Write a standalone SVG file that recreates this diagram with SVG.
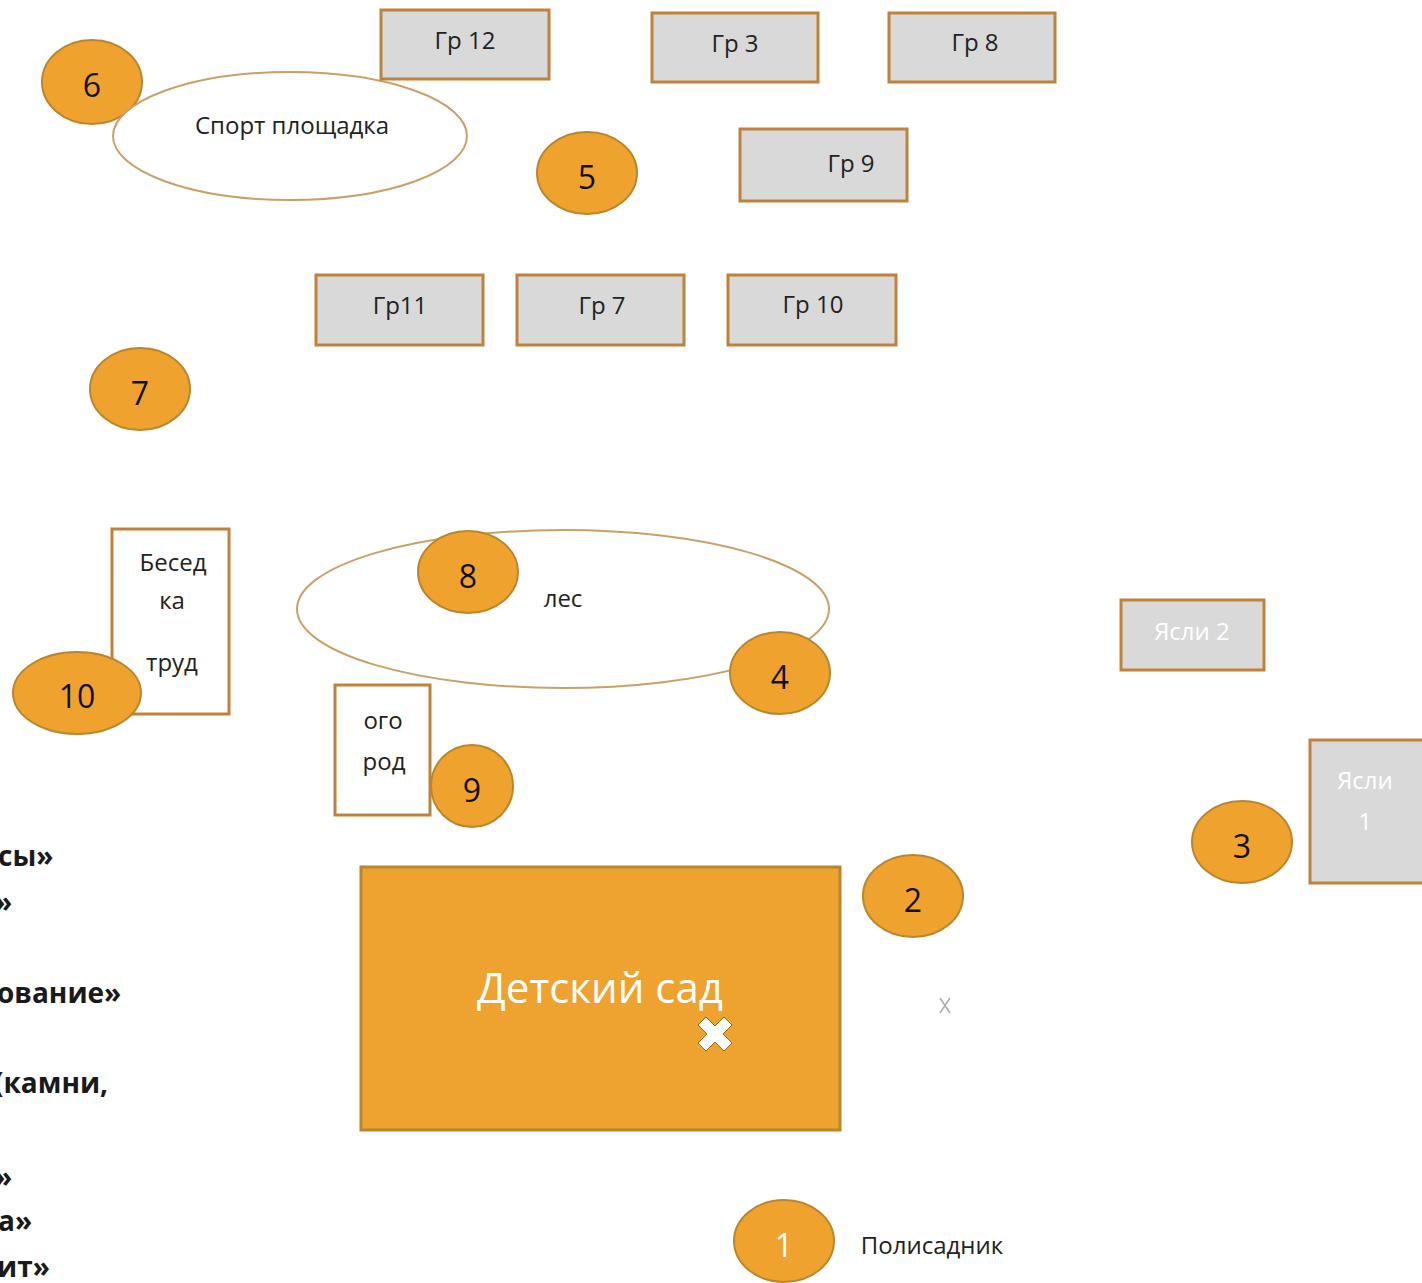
<svg xmlns="http://www.w3.org/2000/svg" width="1422" height="1283" viewBox="0 0 1422 1283">
<style>
text{font-family:"Open Sans","Noto Sans","Liberation Sans",sans-serif;text-anchor:middle;}
.num{fill:#F0A22E;stroke:#B8862E;stroke-width:2;}
.numt{font-size:32px;fill:#111;}
.gr{fill:#D9D9D9;stroke:#C0823A;stroke-width:3;}
.grt{font-size:24px;fill:#222;}
.wb{fill:#fff;stroke:#C0823A;stroke-width:3;}
.ell{fill:#fff;stroke:#C9A06A;stroke-width:2;}
.lbl{font-size:24px;fill:#222;}
.side{font-size:28px;font-weight:bold;fill:#1a1a1a;text-anchor:start;}
</style>
<rect width="1422" height="1283" fill="#fff"/>
<g id="connectors"></g>

<g id="n6"><ellipse class="num" cx="92" cy="82" rx="50" ry="42"/><text class="numt" x="92" y="97">6</text></g>
<g id="sport"><ellipse class="ell" cx="290" cy="136" rx="177" ry="64"/><text class="lbl" x="292" y="134">Спорт площадка</text></g>

<g id="gr12"><rect class="gr" x="381" y="10" width="168" height="69"/><text class="grt" x="465" y="49">Гр 12</text></g>
<g id="gr3"><rect class="gr" x="652" y="13" width="166" height="69"/><text class="grt" x="735" y="52">Гр 3</text></g>
<g id="gr8"><rect class="gr" x="889" y="13" width="166" height="69"/><text class="grt" x="975" y="51">Гр 8</text></g>
<g id="gr9"><rect class="gr" x="740" y="129" width="167" height="72"/><text class="grt" x="851" y="172">Гр 9</text></g>
<g id="n5"><ellipse class="num" cx="587" cy="173" rx="50" ry="41"/><text class="numt" x="587" y="189">5</text></g>

<g id="gr11"><rect class="gr" x="316" y="275" width="167" height="70"/><text class="grt" x="400" y="314">Гр11</text></g>
<g id="gr7"><rect class="gr" x="517" y="275" width="167" height="70"/><text class="grt" x="602" y="314">Гр 7</text></g>
<g id="gr10"><rect class="gr" x="728" y="275" width="168" height="70"/><text class="grt" x="813" y="313">Гр 10</text></g>

<g id="n7"><ellipse class="num" cx="140" cy="389" rx="50" ry="41"/><text class="numt" x="140" y="405">7</text></g>

<g id="besedka"><rect class="wb" x="112" y="529" width="117" height="185"/>
<text class="lbl" x="173" y="571">Бесед</text><text class="lbl" x="172" y="609">ка</text><text class="lbl" x="172" y="671">труд</text></g>
<g id="n10"><ellipse class="num" cx="77" cy="693" rx="64" ry="41"/><text class="numt" x="77" y="708">10</text></g>

<g id="les"><ellipse class="ell" cx="563" cy="609" rx="266" ry="79"/><text class="lbl" x="563" y="607">лес</text></g>
<g id="n8"><ellipse class="num" cx="468" cy="572" rx="50" ry="41"/><text class="numt" x="468" y="588">8</text></g>
<g id="n4"><ellipse class="num" cx="780" cy="673" rx="50" ry="41"/><text class="numt" x="780" y="689">4</text></g>

<g id="ogorod"><rect class="wb" x="335" y="685" width="95" height="130"/>
<text class="lbl" x="383" y="729">ого</text><text class="lbl" x="384" y="770">род</text></g>
<g id="n9"><ellipse class="num" cx="472" cy="786" rx="41" ry="41"/><text class="numt" x="472" y="802">9</text></g>

<g id="yasli2"><rect class="gr" x="1121" y="600" width="143" height="70"/><text class="grt" x="1192" y="640" style="fill:#fff">Ясли 2</text></g>
<g id="yasli1"><rect class="gr" x="1310" y="740" width="114" height="143"/>
<text class="grt" x="1365" y="789" style="fill:#fff">Ясли</text><text class="grt" x="1365" y="830" style="fill:#fff">1</text></g>
<g id="n3"><ellipse class="num" cx="1242" cy="842" rx="50" ry="41"/><text class="numt" x="1242" y="858">3</text></g>

<g id="sad"><rect x="361" y="867" width="479" height="263" fill="#EEA22F" stroke="#B8862E" stroke-width="3"/>
<text x="600" y="1003" style="font-size:42px;fill:#fff">Детский сад</text>
<path d="M706 1017 L715 1026 L724 1017 L732 1025 L723 1034 L732 1043 L724 1051 L715 1042 L706 1051 L698 1043 L707 1034 L698 1025 Z" fill="#fff" stroke="#9A6A20" stroke-width="1"/></g>
<g id="n2"><ellipse class="num" cx="913" cy="896" rx="50" ry="41"/><text class="numt" x="913" y="912">2</text></g>
<g id="xmark"><path d="M940 998 L950 1013 M950 998 L940 1013" stroke="#aaa" stroke-width="1.5" fill="none"/></g>

<g id="n1"><ellipse class="num" cx="784" cy="1241" rx="50" ry="41"/><text class="numt" x="784" y="1257" style="fill:#fff">1</text></g>
<g id="polisad"><text class="lbl" x="932" y="1254">Полисадник</text></g>

<g id="sidetext">
<text class="side" x="-2" y="866">сы»</text>
<text class="side" x="-5" y="912">»</text>
<text class="side" x="-3" y="1003">ование»</text>
<text class="side" x="-6" y="1093">(камни,</text>
<text class="side" x="-5" y="1187">»</text>
<text class="side" x="-2" y="1231">а»</text>
<text class="side" x="-3" y="1277">ит»</text>
</g>
</svg>
